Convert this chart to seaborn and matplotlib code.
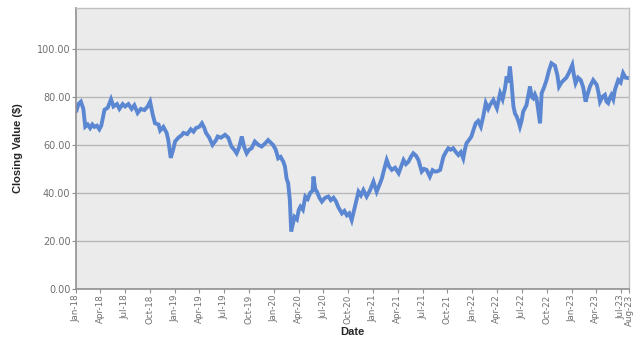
import pandas as pd
import matplotlib
matplotlib.use('Agg')
import matplotlib.pyplot as plt
import matplotlib.dates as mdates
import seaborn as sns

# closing values
dates = [
    '2018-01-02', '2018-01-10', '2018-01-19', '2018-01-28', '2018-02-04', '2018-02-13',
    '2018-02-22', '2018-03-02', '2018-03-10', '2018-03-19', '2018-03-28', '2018-04-04',
    '2018-04-16', '2018-04-28', '2018-05-10', '2018-05-19', '2018-06-01', '2018-06-10',
    '2018-06-22', '2018-07-01', '2018-07-13', '2018-07-25', '2018-08-04', '2018-08-16',
    '2018-08-28', '2018-09-10', '2018-09-22', '2018-10-01', '2018-10-10', '2018-10-19',
    '2018-11-01', '2018-11-07', '2018-11-19', '2018-12-01', '2018-12-07', '2018-12-16',
    '2018-12-25', '2019-01-01', '2019-01-13', '2019-01-25', '2019-02-01', '2019-02-15',
    '2019-02-28', '2019-03-10', '2019-03-19', '2019-04-01', '2019-04-10', '2019-04-19',
    '2019-04-25', '2019-05-07', '2019-05-19', '2019-06-01', '2019-06-07', '2019-06-19',
    '2019-07-04', '2019-07-16', '2019-07-28', '2019-08-07', '2019-08-16', '2019-08-25',
    '2019-09-04', '2019-09-13', '2019-09-22', '2019-10-01', '2019-10-10', '2019-10-22',
    '2019-11-04', '2019-11-16', '2019-11-28', '2019-12-10', '2019-12-19', '2019-12-28',
    '2020-01-07', '2020-01-16', '2020-01-25', '2020-02-04', '2020-02-10', '2020-02-16',
    '2020-02-22', '2020-02-28', '2020-03-04', '2020-03-10', '2020-03-16', '2020-03-25',
    '2020-04-01', '2020-04-07', '2020-04-16', '2020-04-25', '2020-05-04', '2020-05-13',
    '2020-05-22', '2020-05-25', '2020-06-01', '2020-06-07', '2020-06-16', '2020-06-25',
    '2020-07-07', '2020-07-19', '2020-07-28', '2020-08-07', '2020-08-16', '2020-08-25',
    '2020-09-07', '2020-09-16', '2020-09-25', '2020-10-04', '2020-10-13', '2020-10-25',
    '2020-11-07', '2020-11-16', '2020-11-25', '2020-12-07', '2020-12-19', '2021-01-01',
    '2021-01-13', '2021-01-22', '2021-02-01', '2021-02-10', '2021-02-19', '2021-02-28',
    '2021-03-10', '2021-03-22', '2021-04-04', '2021-04-13', '2021-04-22', '2021-05-01',
    '2021-05-10', '2021-05-19', '2021-05-28', '2021-06-07', '2021-06-16', '2021-06-28',
    '2021-07-07', '2021-07-16', '2021-07-28', '2021-08-07', '2021-08-16', '2021-08-25',
    '2021-09-04', '2021-09-16', '2021-09-25', '2021-10-04', '2021-10-13', '2021-10-22',
    '2021-11-01', '2021-11-10', '2021-11-19', '2021-11-28', '2021-12-04', '2021-12-10',
    '2021-12-19', '2021-12-28', '2022-01-04', '2022-01-13', '2022-01-22', '2022-02-01',
    '2022-02-10', '2022-02-19', '2022-02-28', '2022-03-07', '2022-03-19', '2022-04-01',
    '2022-04-13', '2022-04-22', '2022-05-01', '2022-05-07', '2022-05-13', '2022-05-19',
    '2022-05-25', '2022-06-01', '2022-06-07', '2022-06-13', '2022-06-19', '2022-06-25',
    '2022-07-01', '2022-07-07', '2022-07-19', '2022-08-01', '2022-08-07', '2022-08-13',
    '2022-08-19', '2022-08-25', '2022-09-01', '2022-09-07', '2022-09-13', '2022-09-22',
    '2022-10-01', '2022-10-10', '2022-10-19', '2022-11-01', '2022-11-10', '2022-11-16',
    '2022-11-25', '2022-12-04', '2022-12-13', '2022-12-22', '2023-01-04', '2023-01-10',
    '2023-01-16', '2023-01-25', '2023-02-04', '2023-02-13', '2023-02-22', '2023-03-01',
    '2023-03-10', '2023-03-22', '2023-04-04', '2023-04-10', '2023-04-16', '2023-04-25',
    '2023-05-04', '2023-05-10', '2023-05-16', '2023-05-22', '2023-05-28', '2023-06-04',
    '2023-06-10', '2023-06-22', '2023-07-01', '2023-07-10', '2023-07-19', '2023-07-31',
]
closing = [
    74.0, 77.0, 78.0, 75.0, 67.6, 68.5,
    67.0, 68.5, 67.5, 68.0, 66.5, 68.0,
    74.6, 75.5, 79.0, 76.0, 77.0, 75.0,
    77.0, 76.0, 77.0, 75.0, 76.5, 73.3,
    75.0, 74.5, 76.0, 78.0, 73.0, 69.0,
    68.5, 66.0, 67.5, 65.0, 62.0, 54.6,
    58.0, 61.4, 63.0, 64.0, 65.0, 64.5,
    66.5, 65.5, 67.0, 67.6, 69.0, 67.0,
    65.0, 63.0, 60.0, 62.0, 63.5, 63.0,
    64.2, 63.0, 59.3, 58.0, 56.5, 59.0,
    63.5, 59.0, 56.5, 58.0, 58.6, 61.4,
    60.0, 59.3, 60.5, 62.0, 61.0, 60.0,
    58.0, 54.4, 55.0, 53.0, 51.0, 46.0,
    44.0, 37.0, 23.9, 27.0, 30.0, 29.0,
    33.0, 34.3, 33.0, 38.5, 37.5, 40.0,
    41.0, 46.8, 41.5, 40.5, 38.0, 36.4,
    38.0, 38.5, 37.0, 38.0, 36.5, 34.0,
    31.5, 32.5, 30.7, 31.5, 28.7, 34.3,
    40.5, 39.0, 41.2, 38.5, 41.0, 44.7,
    40.5, 43.0, 46.0, 50.0, 53.7, 51.0,
    49.6, 50.5, 48.2, 51.0, 53.7, 52.0,
    53.0, 55.0, 56.5, 55.5, 53.7, 48.9,
    50.0, 49.6, 46.8, 49.5, 48.9, 49.0,
    49.6, 55.1, 57.0, 58.6, 58.0, 58.6,
    57.0, 55.8, 57.0, 54.4, 58.0, 60.7,
    62.0, 63.5, 66.0, 69.0, 70.0, 67.6,
    72.0, 77.4, 75.0, 76.7, 78.7, 75.3,
    81.5, 79.0, 83.6, 88.5, 86.0, 92.6,
    85.7, 76.0, 73.0, 71.8, 70.0, 67.6,
    70.0, 73.9, 76.5, 84.3, 80.0, 79.4,
    81.0, 79.4, 74.0, 69.0, 81.5, 84.0,
    87.0, 91.0, 94.0, 93.0, 89.0, 84.3,
    86.0, 87.0, 88.0, 89.9, 93.3, 89.0,
    85.7, 88.0, 87.0, 84.0, 78.0, 81.0,
    84.3, 87.0, 85.0, 82.0, 78.0, 80.0,
    80.8, 78.0, 77.4, 79.5, 80.8, 79.0,
    82.9, 87.0, 86.0, 89.9, 88.0, 87.8,
]
tick_dates = ['2018-01-01', '2018-04-01', '2018-07-01', '2018-10-01',
              '2019-01-01', '2019-04-01', '2019-07-01', '2019-10-01',
              '2020-01-01', '2020-04-01', '2020-07-01', '2020-10-01',
              '2021-01-01', '2021-04-01', '2021-07-01', '2021-10-01',
              '2022-01-01', '2022-04-01', '2022-07-01', '2022-10-01',
              '2023-01-01', '2023-04-01', '2023-07-01', '2023-08-01']
y_ticks = [0, 20, 40, 60, 80, 100]

df = pd.DataFrame({'Date': pd.to_datetime(dates), 'Close': closing})

sns.set_theme(style='white')
plt.rcParams['font.family'] = ['DejaVu Sans']

fig = plt.figure(figsize=(6.42, 3.43), dpi=100)
ax = fig.add_axes([0.1184, 0.1574, 0.8614, 0.8193])
ax.set_facecolor('#ebebeb')

sns.lineplot(data=df, x='Date', y='Close', ax=ax, color='#5b87d2',
             linewidth=2.8, solid_joinstyle='miter')

ax.set_xlim(pd.Timestamp('2018-01-01'), pd.Timestamp('2023-08-01'))
ax.set_ylim(0, 117)
ax.set_yticks(y_ticks)
ax.set_yticklabels([f'{v:.2f}' for v in y_ticks])
ax.set_xticks(mdates.date2num(pd.to_datetime(tick_dates)))
ax.xaxis.set_major_formatter(mdates.DateFormatter('%b-%y'))
plt.setp(ax.get_xticklabels(), rotation=90, fontsize=6.3)

ax.grid(axis='y', color='#b8b8b8', linewidth=1)
ax.grid(axis='x', visible=False)
ax.set_axisbelow(True)
ax.tick_params(axis='both', labelcolor='#707070', color='#909090',
               length=3, width=0.8, direction='out', pad=1)
ax.tick_params(axis='y', left=True, labelsize=7)
ax.tick_params(axis='x', bottom=True)
for side in ['left', 'bottom']:
    ax.spines[side].set_color('#909090')
    ax.spines[side].set_linewidth(1.2)
for side in ['top', 'right']:
    ax.spines[side].set_color('#c0c0c0')
    ax.spines[side].set_linewidth(1)

ax.set_xlabel('Date', fontsize=8, fontweight='bold', family='Liberation Sans', labelpad=1)
ax.set_ylabel('Closing Value ($)', fontsize=8, fontweight='bold', family='Liberation Sans', labelpad=10)

fig.savefig('out.png', dpi=100)
